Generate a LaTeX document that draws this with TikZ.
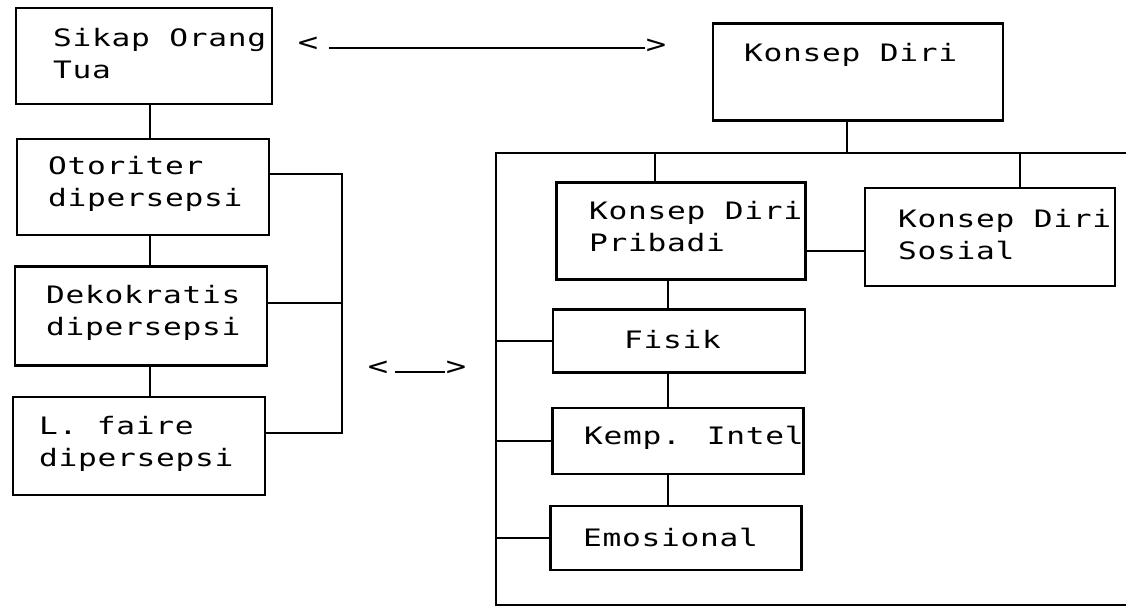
\documentclass[tikz,border=0pt]{standalone}
\usepackage{fontspec}
\newfontfamily\printfont[FakeStretch=1.3,LetterSpace=3]{DejaVu Sans Mono}
\usetikzlibrary{calc}
\begin{document}
\begin{tikzpicture}[x=0.5pt,y=-0.5pt,line width=1.1pt,
  box/.style={draw, rectangle, inner sep=0pt, outer sep=0pt},
  lbl/.style={anchor=west, align=left, inner sep=0pt,
    font=\printfont\fontsize{12pt}{16pt}\selectfont},
  chev/.style={inner sep=0pt, font=\printfont\fontsize{13pt}{16pt}\selectfont}]
\useasboundingbox (0,0) rectangle (1126,613);
\fill[white] (0,0) rectangle (1126,613);

% ---- left column: parental attitude ----
\node[box, minimum width=128pt, minimum height=48pt]   (sikap)  at (144,56)  {};
\node[box, minimum width=126pt, minimum height=48pt]   (otor)   at (143,187) {};
\node[box, minimum width=126pt, minimum height=49.5pt] (deko)   at (141,316) {};
\node[box, minimum width=126pt, minimum height=49pt]   (lfaire) at (139,446) {};

\node[lbl] (sikap-t)  at (52,54)  {Sikap Orang\\Tua};
\node[lbl] (otor-t)   at (47,184) {Otoriter\\dipersepsi};
\node[lbl] (deko-t)   at (45,313) {Dekokratis\\dipersepsi};
\node[lbl] (lfaire-t) at (38,444) {L. faire\\dipersepsi};

\coordinate (lc) at (150,0);
\draw (sikap.south -| lc) -- (otor.north -| lc);
\draw (otor.south -| lc)  -- (deko.north -| lc);
\draw (deko.south -| lc)  -- (lfaire.north -| lc);

% bracket joining the three perceived styles
\coordinate (lb) at (342,0);
\draw ([yshift=6.5pt]otor.east) -- ([yshift=6.5pt]otor.east -| lb)
   -- ([yshift=6.5pt]lfaire.east -| lb) -- ([yshift=6.5pt]lfaire.east);
\draw ([yshift=6.5pt]deko.east) -- ([yshift=6.5pt]deko.east -| lb);

% ---- right side: self-concept ----
\node[box, minimum width=145pt, minimum height=48.5pt]   (konsep)  at (858,72)  {};
\node[box, minimum width=124.5pt, minimum height=48.5pt] (pribadi) at (681,231) {};
\node[box, minimum width=125pt, minimum height=49pt]     (sosial)  at (990,237) {};
\node[box, minimum width=126pt, minimum height=31.5pt]   (fisik)   at (679,341) {};
\node[box, minimum width=125.5pt, minimum height=33pt]   (kemp)    at (678,441) {};
\node[box, minimum width=125.5pt, minimum height=32pt]   (emo)     at (676,538) {};

\node[lbl] (konsep-t)  at (743,55)  {Konsep Diri};
\node[lbl] (pribadi-t) at (588,227) {Konsep Diri\\Pribadi};
\node[lbl] (sosial-t)  at (897,235) {Konsep Diri\\Sosial};
\node[lbl] (fisik-t)   at (623,340) {Fisik};
\node[lbl] (kemp-t)    at (583,438) {Kemp. Intel};
\node[lbl] (emo-t)     at (582,537) {Emosional};

% open frame around the self-concept parts
\coordinate (brTL) at (496,153);
\coordinate (brBL) at (496,605);
\coordinate (brTR) at (1126,153);
\coordinate (brBR) at (1126,605);
\draw (brTR) -- (brTL) -- (brBL) -- (brBR);

\coordinate (kx) at (847,0);
\coordinate (px) at (655,0);
\coordinate (sx) at (1020,0);
\coordinate (ps) at (0,251);
\coordinate (rc) at (668,0);
\draw (konsep.south -| kx) -- (brTL -| kx);
\draw (brTL -| px) -- (pribadi.north -| px);
\draw (brTL -| sx) -- (sosial.north -| sx);
\draw (pribadi.east |- ps) -- (sosial.west |- ps);
\draw (pribadi.south -| rc) -- (fisik.north -| rc);
\draw (fisik.south -| rc)   -- (kemp.north -| rc);
\draw (kemp.south -| rc)    -- (emo.north -| rc);
\draw (fisik.west) -- (fisik.west -| brTL);
\draw (kemp.west)  -- (kemp.west -| brTL);
\draw (emo.west)   -- (emo.west -| brTL);

% ---- two-way relations ----
\node[chev] (a1l) at (308,44) {<};
\node[chev] (a1r) at (656,46) {>};
\draw ([shift={(10,4)}]a1l.east) -- ([shift={(0,2)}]a1r.west);

\node[chev] (a2l) at (378,368) {<};
\node[chev] (a2r) at (456,368) {>};
\draw ([shift={(6,4)}]a2l.east) -- ([shift={(0,4)}]a2r.west);
\end{tikzpicture}
\end{document}
